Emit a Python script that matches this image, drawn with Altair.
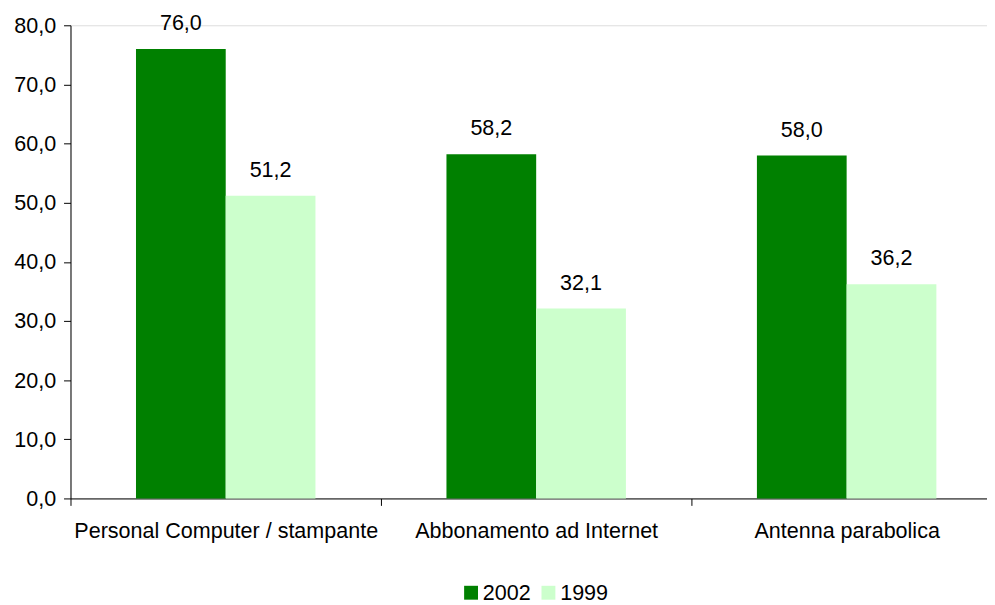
import altair as alt
import pandas as pd

categories = ["Personal Computer / stampante", "Abbonamento ad Internet", "Antenna parabolica"]
series = ["2002", "1999"]
values_2002 = [76.0, 58.2, 58.0]
values_1999 = [51.2, 32.1, 36.2]
colors = ["#008000", "#CCFFCC"]

rows = []
for c, v in zip(categories, values_2002):
    rows.append({"categoria": c, "anno": "2002", "valore": v})
for c, v in zip(categories, values_1999):
    rows.append({"categoria": c, "anno": "1999", "valore": v})
df = pd.DataFrame(rows)

FONT = "Liberation Sans"
FS = 21.7

base = alt.Chart(df).encode(
    x=alt.X(
        "categoria:N",
        sort=categories,
        scale=alt.Scale(paddingInner=0, paddingOuter=0),
        axis=alt.Axis(
            title=None, labelAngle=0, tickBand="extent", tickSize=7,
            labelPadding=15, labelFontSize=FS, labelColor="#000000",
            domainColor="#000000", tickColor="#000000", labelFont=FONT,
            labelLimit=0,
        ),
    ),
    xOffset=alt.XOffset("anno:N", sort=series,
                        scale=alt.Scale(paddingInner=0, paddingOuter=0.73)),
    y=alt.Y(
        "valore:Q",
        scale=alt.Scale(domain=[0, 80], nice=False),
        axis=alt.Axis(
            title=None, values=[0, 10, 20, 30, 40, 50, 60, 70, 80],
            labelExpr="replace(format(datum.value, '.1f'), '.', ',')",
            grid=False, tickSize=7, labelPadding=8, labelFontSize=FS,
            labelColor="#000000", domainColor="#000000", tickColor="#000000",
            labelFont=FONT,
        ),
    ),
)

bars = base.mark_bar().encode(
    color=alt.Color(
        "anno:N",
        sort=series,
        scale=alt.Scale(domain=series, range=colors),
        legend=alt.Legend(
            title=None, orient="none", legendX=393, legendY=561,
            direction="horizontal", symbolType="square", symbolSize=196,
            symbolStrokeWidth=0, labelFontSize=FS, labelFont=FONT,
            labelColor="#000000", labelOffset=1, columnPadding=7,
        ),
    )
)

labels = base.mark_text(
    baseline="alphabetic", dy=-19, fontSize=FS, font=FONT, color="#000000"
).transform_calculate(
    testo="replace(format(datum.valore, '.1f'), '.', ',')"
).encode(text="testo:N")

chart = (
    alt.layer(bars, labels)
    .properties(
        width=939, height=477,
        padding={"left": 63, "top": 15, "right": -15, "bottom": 105},
        autosize=alt.AutoSizeParams(type="none"),
    )
    .configure_view(stroke=None)
    .configure(font=FONT)
)

chart.save("out.html", embed_options={"renderer": "svg", "actions": False})
